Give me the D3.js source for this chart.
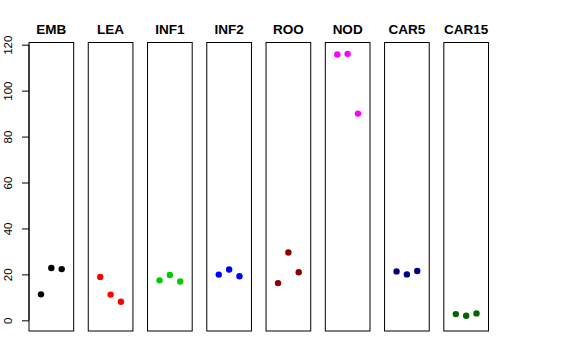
<!DOCTYPE html>
<html><head><meta charset="utf-8">
<script src="https://cdn.jsdelivr.net/npm/d3@7"></script>
<style>body{margin:0;background:#fff}svg{display:block}</style>
</head><body>
<svg id="c" width="576" height="360"></svg>
<script>
const categories = ["EMB","LEA","INF1","INF2","ROO","NOD","CAR5","CAR15"];
const colors = ["#000000","#FF0000","#00CD00","#0000FF","#8B0000","#FF00FF","#000080","#006400"];
const EMB = [11.3, 22.8, 22.3];
const LEA = [18.9, 11.2, 8.1];
const INF1 = [17.4, 19.7, 16.9];
const INF2 = [19.9, 22.1, 19.2];
const ROO = [16.2, 29.5, 20.9];
const NOD = [115.7, 116.0, 90.0];
const CAR5 = [21.3, 20.0, 21.5];
const CAR15 = [2.7, 2.0, 3.0];
const series = [EMB, LEA, INF1, INF2, ROO, NOD, CAR5, CAR15];
const yTicks = [0, 20, 40, 60, 80, 100, 120];

(function () {
const svg = d3.select("#c");
const pTop = 42.5, pBottom = 331;
const yMin = 0, yMax = d3.max(series.flat()) + 0.3;
const ext = 0.04 * (yMax - yMin);
const y = d3.scaleLinear().domain([yMin - ext, yMax + ext]).range([pBottom, pTop]);
const band = d3.scaleBand().domain(categories).range([29, 488.5]).paddingInner(0.246).paddingOuter(0);
const x = d3.scaleLinear().domain([-0.16, 4.16]);

categories.forEach((c, i) => {
  const x0 = band(c), w = band.bandwidth();
  x.range([x0, x0 + w]);
  const g = svg.append("g");
  g.append("rect").attr("x", x0).attr("y", pTop).attr("width", w).attr("height", pBottom - pTop)
    .attr("fill", "none").attr("stroke", "#000").attr("stroke-width", 1);
  g.append("text").attr("x", x0 + w / 2).attr("y", 34).attr("text-anchor", "middle")
    .attr("font-family", "Liberation Sans, Arial, sans-serif").attr("font-weight", "bold")
    .attr("font-size", "13.5px").text(c);
  g.selectAll("circle").data(series[i]).join("circle")
    .attr("cx", (d, j) => x(j + 1)).attr("cy", d => y(d)).attr("r", 3.2)
    .attr("fill", colors[i]);
});

const axis = d3.axisLeft(y).tickValues(yTicks).tickSize(7).tickPadding(4);
const ag = svg.append("g").attr("transform", `translate(${band(categories[0])},0)`).call(axis);
ag.select(".domain").attr("d", `M0,${y(0)}V${y(120)}`).attr("stroke", "#000");
ag.selectAll("line").attr("stroke", "#000");
ag.selectAll("text").attr("font-family", "Liberation Sans, Arial, sans-serif").attr("font-size", "11.5px")
  .attr("fill", "#000").attr("x", 0).attr("y", 0).attr("dy", "0").attr("text-anchor", "middle")
  .attr("transform", "translate(-17,0) rotate(-90)");
})();
</script>
</body></html>
